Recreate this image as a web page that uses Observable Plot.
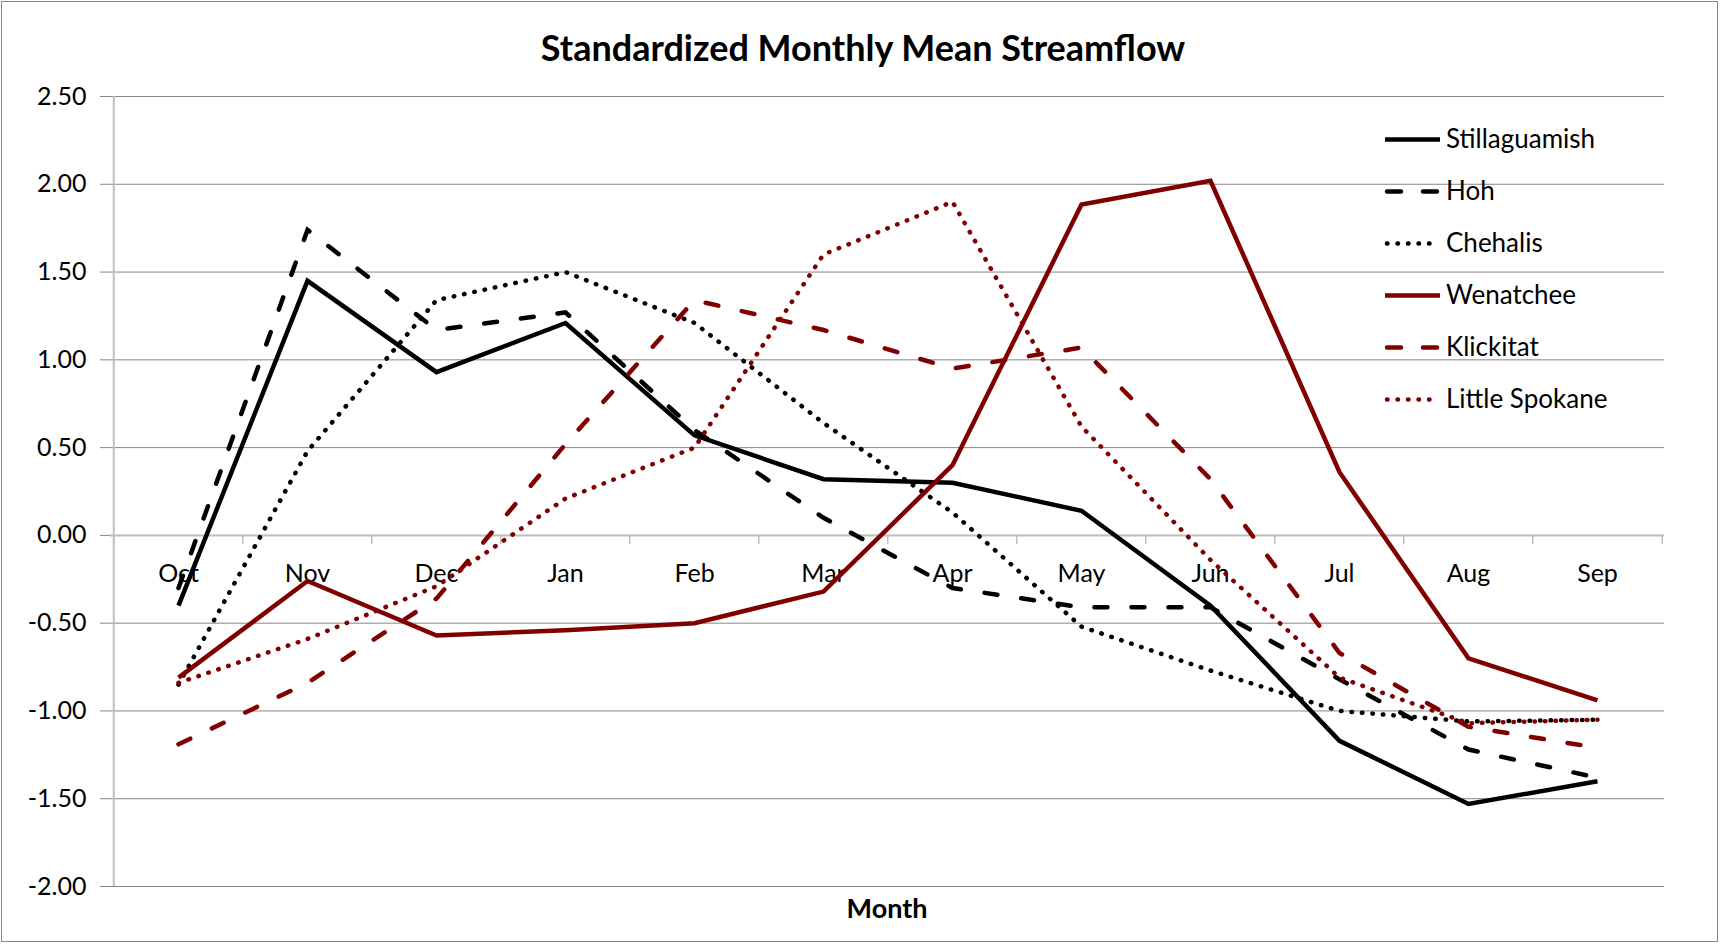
<!DOCTYPE html>
<html>
<head>
<meta charset="utf-8">
<script src="https://cdn.jsdelivr.net/npm/d3@7"></script>
<script src="https://cdn.jsdelivr.net/npm/@observablehq/plot@0.6"></script>
<style>
  html, body { margin: 0; padding: 0; background: #fff; }
  #wrap { position: relative; width: 1721px; height: 945px; overflow: hidden; font-family: Lato, "Open Sans", sans-serif; }
  #border { position: absolute; left: 1px; top: 1px; width: 1717px; height: 941px; border: 1px solid #898989; box-sizing: border-box; pointer-events: none; }
  #title { position: absolute; left: 0; width: 1726px; top: 27px; text-align: center; font-weight: 700; font-size: 36px; line-height: 40px; color: #000; }
  #xlabel { position: absolute; left: 110px; width: 1554px; top: 893px; text-align: center; font-weight: 700; font-size: 27px; line-height: 30px; color: #000; }
  #chart { position: absolute; left: 0; top: 0; }
  #legend { position: absolute; left: 0; top: 0; }
</style>
</head>
<body>
<div id="wrap">
  <div id="chart"></div>
  <div id="title">Standardized Monthly Mean Streamflow</div>
  <div id="xlabel">Month</div>
  <svg id="legend" width="1721" height="945"></svg>
  <div id="border"></div>
</div>
<script>
// ---- Data ----
const months = ["Oct","Nov","Dec","Jan","Feb","Mar","Apr","May","Jun","Jul","Aug","Sep"];
const stillaguamish = [-0.40, 1.45, 0.93, 1.21, 0.57, 0.32, 0.30, 0.14, -0.40, -1.17, -1.53, -1.40];
const hoh           = [-0.30, 1.74, 1.17, 1.27, 0.60, 0.10, -0.30, -0.41, -0.41, -0.82, -1.22, -1.38];
const chehalis      = [-0.85, 0.48, 1.34, 1.50, 1.21, 0.64, 0.13, -0.52, -0.77, -1.00, -1.06, -1.05];
const wenatchee     = [-0.81, -0.26, -0.57, -0.54, -0.50, -0.32, 0.40, 1.885, 2.02, 0.36, -0.70, -0.94];
const klickitat     = [-1.19, -0.84, -0.36, 0.52, 1.34, 1.17, 0.95, 1.07, 0.32, -0.67, -1.09, -1.21];
const littleSpokane = [-0.84, -0.59, -0.29, 0.21, 0.50, 1.60, 1.90, 0.62, -0.14, -0.81, -1.07, -1.05];
const yTicks = [-2, -1.5, -1, -0.5, 0, 0.5, 1, 1.5, 2, 2.5];

const BLACK = "#000000", RED = "#800000";
const SOLID = null, DASH = "13,24", DOT = "0.5,10";
const series = [
  {name: "Stillaguamish", values: stillaguamish, color: BLACK, dash: SOLID},
  {name: "Hoh",           values: hoh,           color: BLACK, dash: DASH},
  {name: "Chehalis",      values: chehalis,      color: BLACK, dash: DOT},
  {name: "Wenatchee",     values: wenatchee,     color: RED,   dash: SOLID},
  {name: "Klickitat",     values: klickitat,     color: RED,   dash: DASH},
  {name: "Little Spokane",values: littleSpokane, color: RED,   dash: DOT}
];

// ---- Layout ----
const W = 1721, H = 945;
const mL = 110, mR = 57, mT = 96, mB = 59;
const step = (W - mL - mR) / months.length;
const GRID = "#868686", AXIS = "#bfbfbf";

const lineMarks = series.map(s => Plot.line(months, {
  x: d => d,
  y: (d, i) => s.values[i],
  stroke: s.color,
  strokeWidth: 4.5,
  strokeDasharray: s.dash ?? undefined,
  strokeLinecap: s.dash ? "round" : "butt",
  strokeLinejoin: s.dash === DOT ? "round" : "miter",
  strokeMiterlimit: 10
}));

const chart = Plot.plot({
  width: W, height: H,
  marginLeft: mL, marginRight: mR, marginTop: mT, marginBottom: mB,
  style: {fontFamily: "Lato, 'Open Sans', sans-serif", fontSize: "25px", background: "transparent", overflow: "visible", color: "#000"},
  x: {type: "point", domain: months, padding: 0.5, axis: null},
  y: {domain: [-2, 2.5], axis: null},
  marks: [
    Plot.ruleY(yTicks, {y: d => d, stroke: GRID, strokeWidth: 1, insetLeft: -10}),
    Plot.ruleY([0], {y: d => d, stroke: AXIS, strokeWidth: 2}),
    Plot.ruleX([months[0]], {x: d => d, dx: -step / 2, stroke: AXIS, strokeWidth: 2}),
    Plot.ruleX(months, {x: d => d, y1: () => 0, y2: () => 0, dx: -step / 2, insetBottom: -9, stroke: AXIS, strokeWidth: 1.5}),
    Plot.ruleX([months[months.length - 1]], {x: d => d, y1: () => 0, y2: () => 0, dx: step / 2, insetBottom: -9, stroke: AXIS, strokeWidth: 1.5}),
    Plot.text(yTicks, {y: d => d, text: d => d.toFixed(2), frameAnchor: "left", dx: -24, textAnchor: "end", fontSize: 25, fill: "#000"}),
    Plot.text(months, {x: d => d, y: () => 0, text: d => d, dy: 39, fontSize: 25, fill: "#000"}),
    ...lineMarks
  ]
});
document.getElementById("chart").appendChild(chart);

// ---- Legend ----
const leg = d3.select("#legend");
const lx0 = 1385, lx1 = 1440, ltx = 1446, ly0 = 141.5, ldy = 52;
series.forEach((s, i) => {
  const y = ly0 + i * ldy;
  leg.append("line")
    .attr("x1", lx0 + (s.dash ? 2 : 0)).attr("x2", lx1 - (s.dash ? 2 : 0))
    .attr("y1", y - 2).attr("y2", y - 2)
    .attr("stroke", s.color).attr("stroke-width", 4.5)
    .attr("stroke-dasharray", s.dash === DASH ? "14,22" : s.dash)
    .attr("stroke-linecap", s.dash ? "round" : "butt");
  leg.append("text")
    .attr("x", ltx).attr("y", y)
    .attr("dominant-baseline", "middle")
    .attr("font-family", "Lato, 'Open Sans', sans-serif")
    .attr("font-size", 26)
    .attr("fill", "#000")
    .text(s.name);
});
</script>
</body>
</html>
